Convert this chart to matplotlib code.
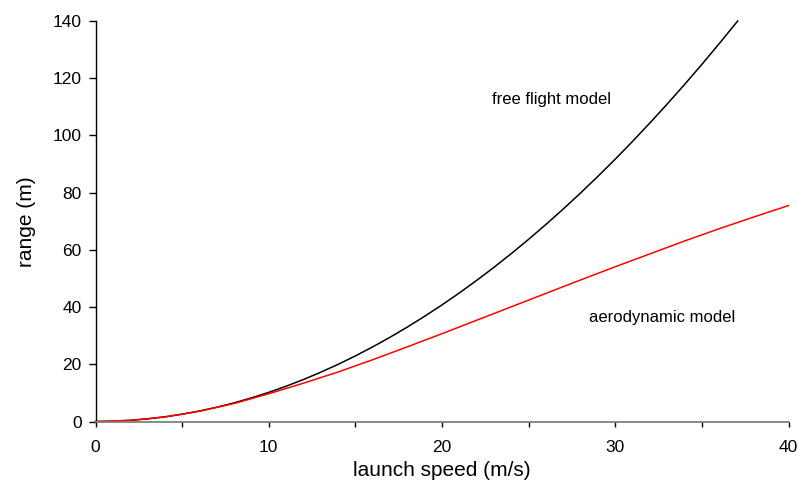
import matplotlib
matplotlib.use("Agg")
import matplotlib.pyplot as plt

plt.rcParams['font.family'] = ['Liberation Sans', 'DejaVu Sans']

# free flight model (black)
free_speed = [0, 1, 2, 3, 4, 5, 6, 7, 8, 9, 10, 11, 12, 13, 14, 15, 16, 17, 18, 19,
              20, 21, 22, 23, 24, 25, 26, 27, 28, 29, 30, 31, 32, 33, 34, 35, 36, 37, 37.06]
free_range = [0, 0.10, 0.41, 0.92, 1.63, 2.55, 3.67, 5.0, 6.52, 8.26, 10.19, 12.33,
              14.68, 17.23, 19.98, 22.94, 26.1, 29.46, 33.03, 36.8, 40.77, 44.95,
              49.34, 53.92, 58.72, 63.71, 68.91, 74.31, 79.92, 85.73, 91.74, 97.96,
              104.39, 111.01, 117.84, 124.87, 132.11, 139.55, 140.0]

# aerodynamic model (red)
aero_speed = [0, 2, 4, 6, 8, 10, 12, 14, 16, 18, 20, 22, 24, 26, 28, 30, 32, 34, 36, 38, 40]
aero_range = [0, 0.4, 1.6, 3.6, 6.3, 9.7, 13.4, 17.3, 21.6, 26.1, 30.7, 35.4, 40.1,
              44.8, 49.5, 54.1, 58.6, 63.1, 67.4, 71.5, 75.5]

x_major = [0, 10, 20, 30, 40]
x_minor = [5, 15, 25, 35]
y_ticks = [0, 20, 40, 60, 80, 100, 120, 140]

fig = plt.figure(figsize=(7.98, 4.84), dpi=100)
ax = fig.add_axes([0.1197, 0.1291, 0.8685, 0.8275])

ax.plot(free_speed, free_range, color='black', lw=1.1, clip_on=False)
ax.plot(aero_speed, aero_range, color='red', lw=1.1, clip_on=False)

ax.set_xlim(0, 40)
ax.set_ylim(0, 140)
ax.set_xticks(x_major)
ax.set_xticks(x_minor, minor=True)
ax.set_yticks(y_ticks)

for s in ['top', 'right']:
    ax.spines[s].set_visible(False)
ax.spines['left'].set_color('black')
ax.spines['bottom'].set_color('#808080')
ax.spines['left'].set_linewidth(1.0)
ax.spines['bottom'].set_linewidth(1.3)

ax.tick_params(axis='y', direction='out', length=5, width=1, labelsize=12.5, pad=5, colors='black')
ax.tick_params(axis='x', which='both', direction='out', length=3.5, width=1, labelsize=12.5, pad=10, color='black')
ax.tick_params(axis='x', which='minor', length=3.5)

ax.set_xlabel('launch speed (m/s)', fontsize=15, labelpad=4)
ax.set_ylabel('range (m)', fontsize=15, labelpad=12)

ax.text(22.9, 112.4, 'free flight model', fontsize=12, va='center', ha='left')
ax.text(28.5, 36.5, 'aerodynamic model', fontsize=12, va='center', ha='left')

fig.savefig('out.png', dpi=100)
